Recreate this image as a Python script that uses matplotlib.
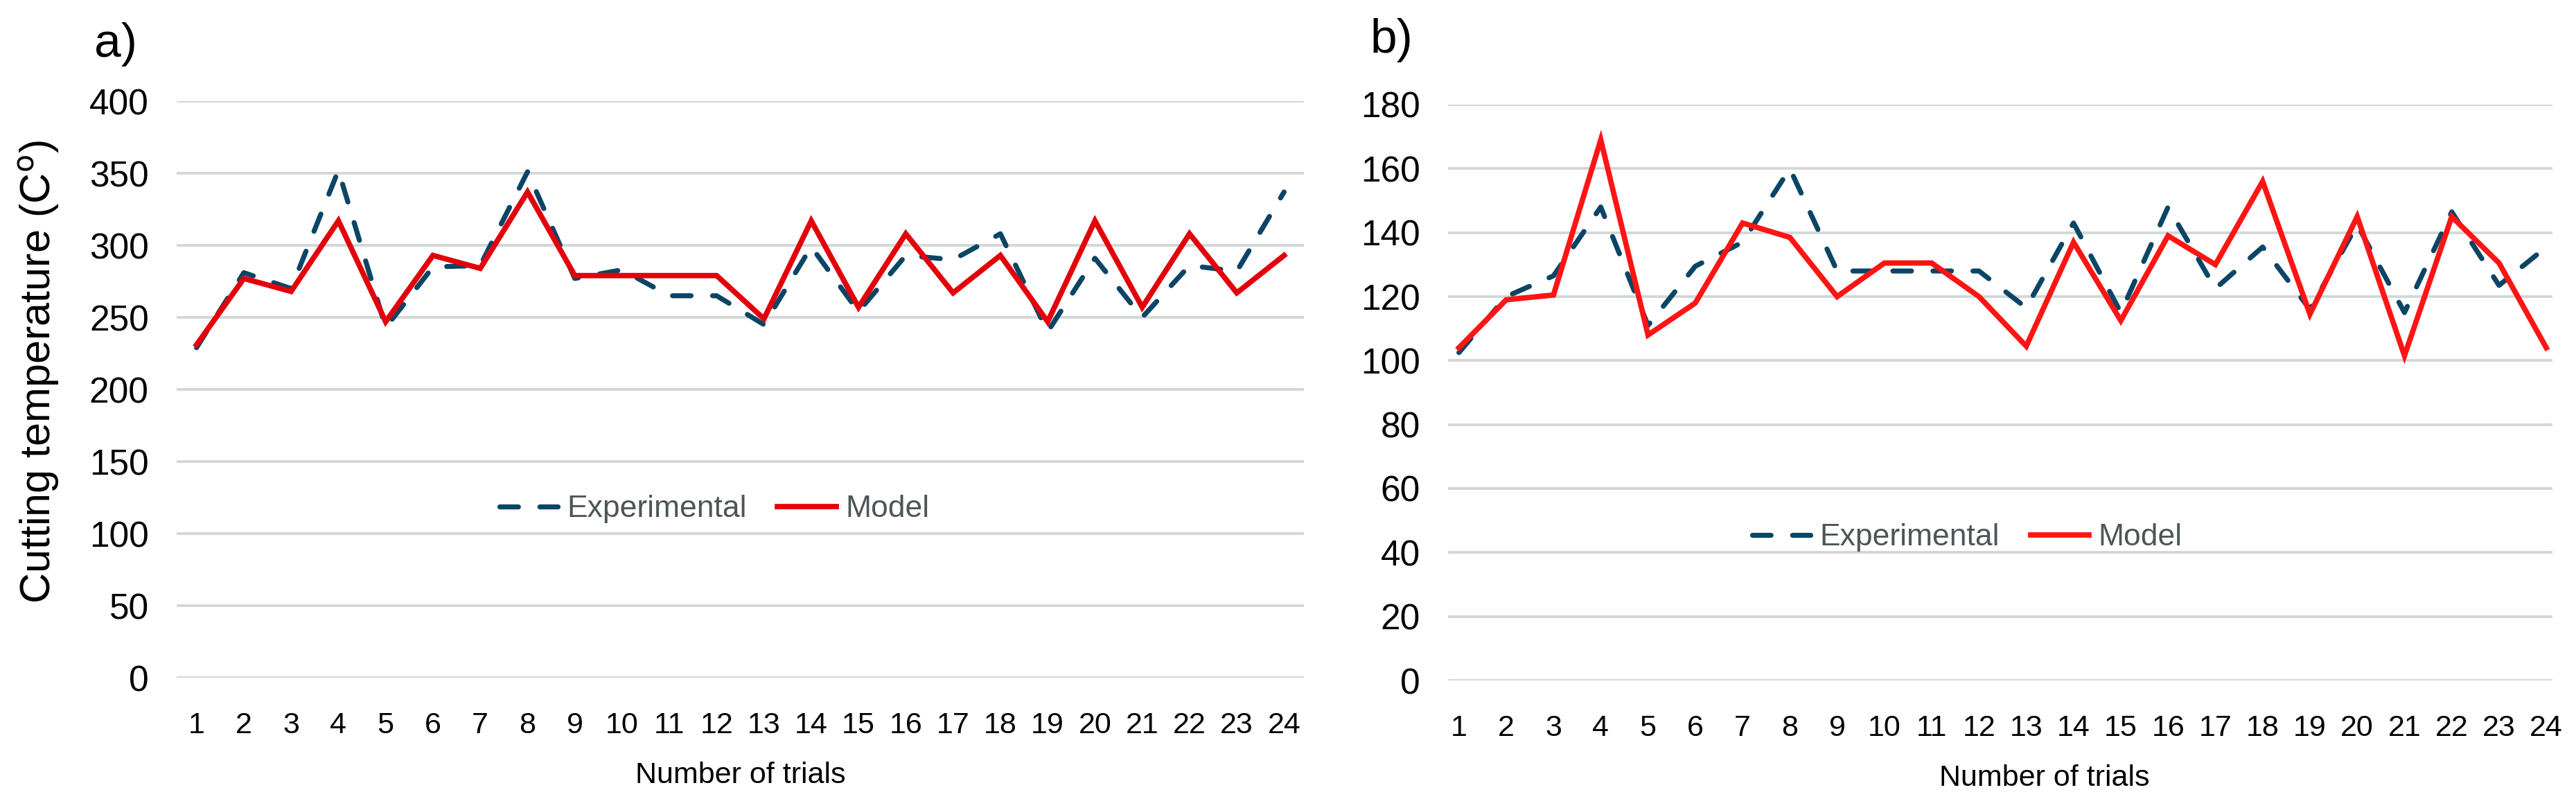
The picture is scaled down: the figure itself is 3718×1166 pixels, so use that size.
import matplotlib
matplotlib.use("Agg")
import matplotlib.pyplot as plt
from matplotlib import font_manager
from matplotlib.lines import Line2D

trials = list(range(1, 25))

exp_a = [229, 281, 270, 352, 243, 285, 286, 351, 277, 283, 265, 265, 245, 299, 254,
         293, 290, 308, 240, 291, 250, 286, 282, 337]
mod_a = [231, 277, 268, 317, 247, 293, 284, 337, 279, 279, 279, 279, 249, 317, 257,
         308, 267, 293, 247, 317, 257, 308, 267, 293]

exp_b = [102.5, 120, 126.5, 148, 111, 129.5, 137, 160, 128, 128, 128, 128, 116.5, 143,
         115, 148, 122.5, 135.5, 116, 142.5, 115, 146.5, 123.5, 135.5]
mod_b = [104, 119, 120.5, 169, 108, 118, 143, 138.5, 120, 130.5, 130.5, 120, 104.5, 137,
         112.5, 139, 130, 156, 114.5, 145, 101.5, 145, 130.5, 104]

yticks_a = [0, 50, 100, 150, 200, 250, 300, 350, 400]
yticks_b = [0, 20, 40, 60, 80, 100, 120, 140, 160, 180]

names = {f.name for f in font_manager.fontManager.ttflist}
base_font = "Liberation Sans" if "Liberation Sans" in names else "DejaVu Sans"
leg_font = "Liberation Sans Narrow" if "Liberation Sans Narrow" in names else base_font
leg_size = 19 if leg_font == "Liberation Sans Narrow" else 16
plt.rcParams["font.family"] = [base_font, "DejaVu Sans"]

EXP_C = "#0B4566"
GRID_C = "#D3D7D6"
LEG_TXT = "#4D5656"
DASH = (3.7, 4.3)

W, H = 3718, 1166
fig = plt.figure(figsize=(W / 200, H / 200), dpi=200)
fig.patch.set_facecolor("white")


def make_panel(rect, exp, mod, yticks, ylim, xlim, red, legend_y, legend_x, label, label_xy,
               xlab_x, xlab_y):
    ax = fig.add_axes(rect)
    ax.set_facecolor("white")
    ax.set_xlim(*xlim)
    ax.set_ylim(*ylim)
    ax.set_yticks(yticks)
    ax.set_xticks(trials)
    ax.set_xticklabels([str(t) for t in trials])
    for s in ax.spines.values():
        s.set_visible(False)
    ax.tick_params(axis="both", length=0)
    ax.tick_params(axis="y", labelsize=18.5, pad=14.5)
    ax.tick_params(axis="x", labelsize=15.5, pad=17.5)
    ax.grid(axis="y", color=GRID_C, linewidth=1.4, zorder=0)
    ax.set_axisbelow(True)
    ax.plot(trials, exp, color=EXP_C, lw=2.6, dashes=DASH, dash_capstyle="round",
            dash_joinstyle="round", zorder=3, clip_on=False)
    ax.plot(trials, mod, color=red, lw=2.8, solid_joinstyle="miter", zorder=4, clip_on=False)
    handles = [Line2D([], [], color=EXP_C, lw=2.6, dashes=DASH, dash_capstyle="round"),
               Line2D([], [], color=red, lw=2.8)]
    leg = ax.legend(handles, ["Experimental", "Model"], loc="center",
                    bbox_to_anchor=(legend_x, (legend_y - ylim[0]) / (ylim[1] - ylim[0])),
                    ncol=2, frameon=False, handlelength=1.9, handletextpad=0.3,
                    columnspacing=1.0,
                    prop={"family": [leg_font, "DejaVu Sans"], "size": leg_size})
    for t in leg.get_texts():
        t.set_color(LEG_TXT)
    ax.set_xlabel("Number of trials", fontsize=15.5)
    ax.xaxis.set_label_coords(xlab_x, xlab_y)
    fig.text(label_xy[0] / W, 1 - label_xy[1] / H, label, fontsize=25, ha="center",
             va="center")
    return ax


# panel a
ax_a = make_panel([255 / W, 1 - 978 / H, (1882 - 255) / W, (978 - 146) / H],
                  exp_a, mod_a, yticks_a, (0, 400), (0.58, 24.42), "#E3000B",
                  117, 0.477, "a)", (167, 64), 0.5, -0.146)
ax_a.set_ylabel("Cutting temperature (C$^{\\mathrm{o}}$)", fontsize=22)
ax_a.yaxis.set_label_coords((88 - 255) / (1882 - 255), 0.53)

# panel b
ax_b = make_panel([2090 / W, 1 - 982 / H, (3684 - 2090) / W, (982 - 151) / H],
                  exp_b, mod_b, yticks_b, (0, 180), (0.77, 24.13), "#FF1414",
                  44.7, 0.47, "b)", (2008, 58), 0.54, -0.146)

fig.savefig("out.png", dpi=200, facecolor="white")
